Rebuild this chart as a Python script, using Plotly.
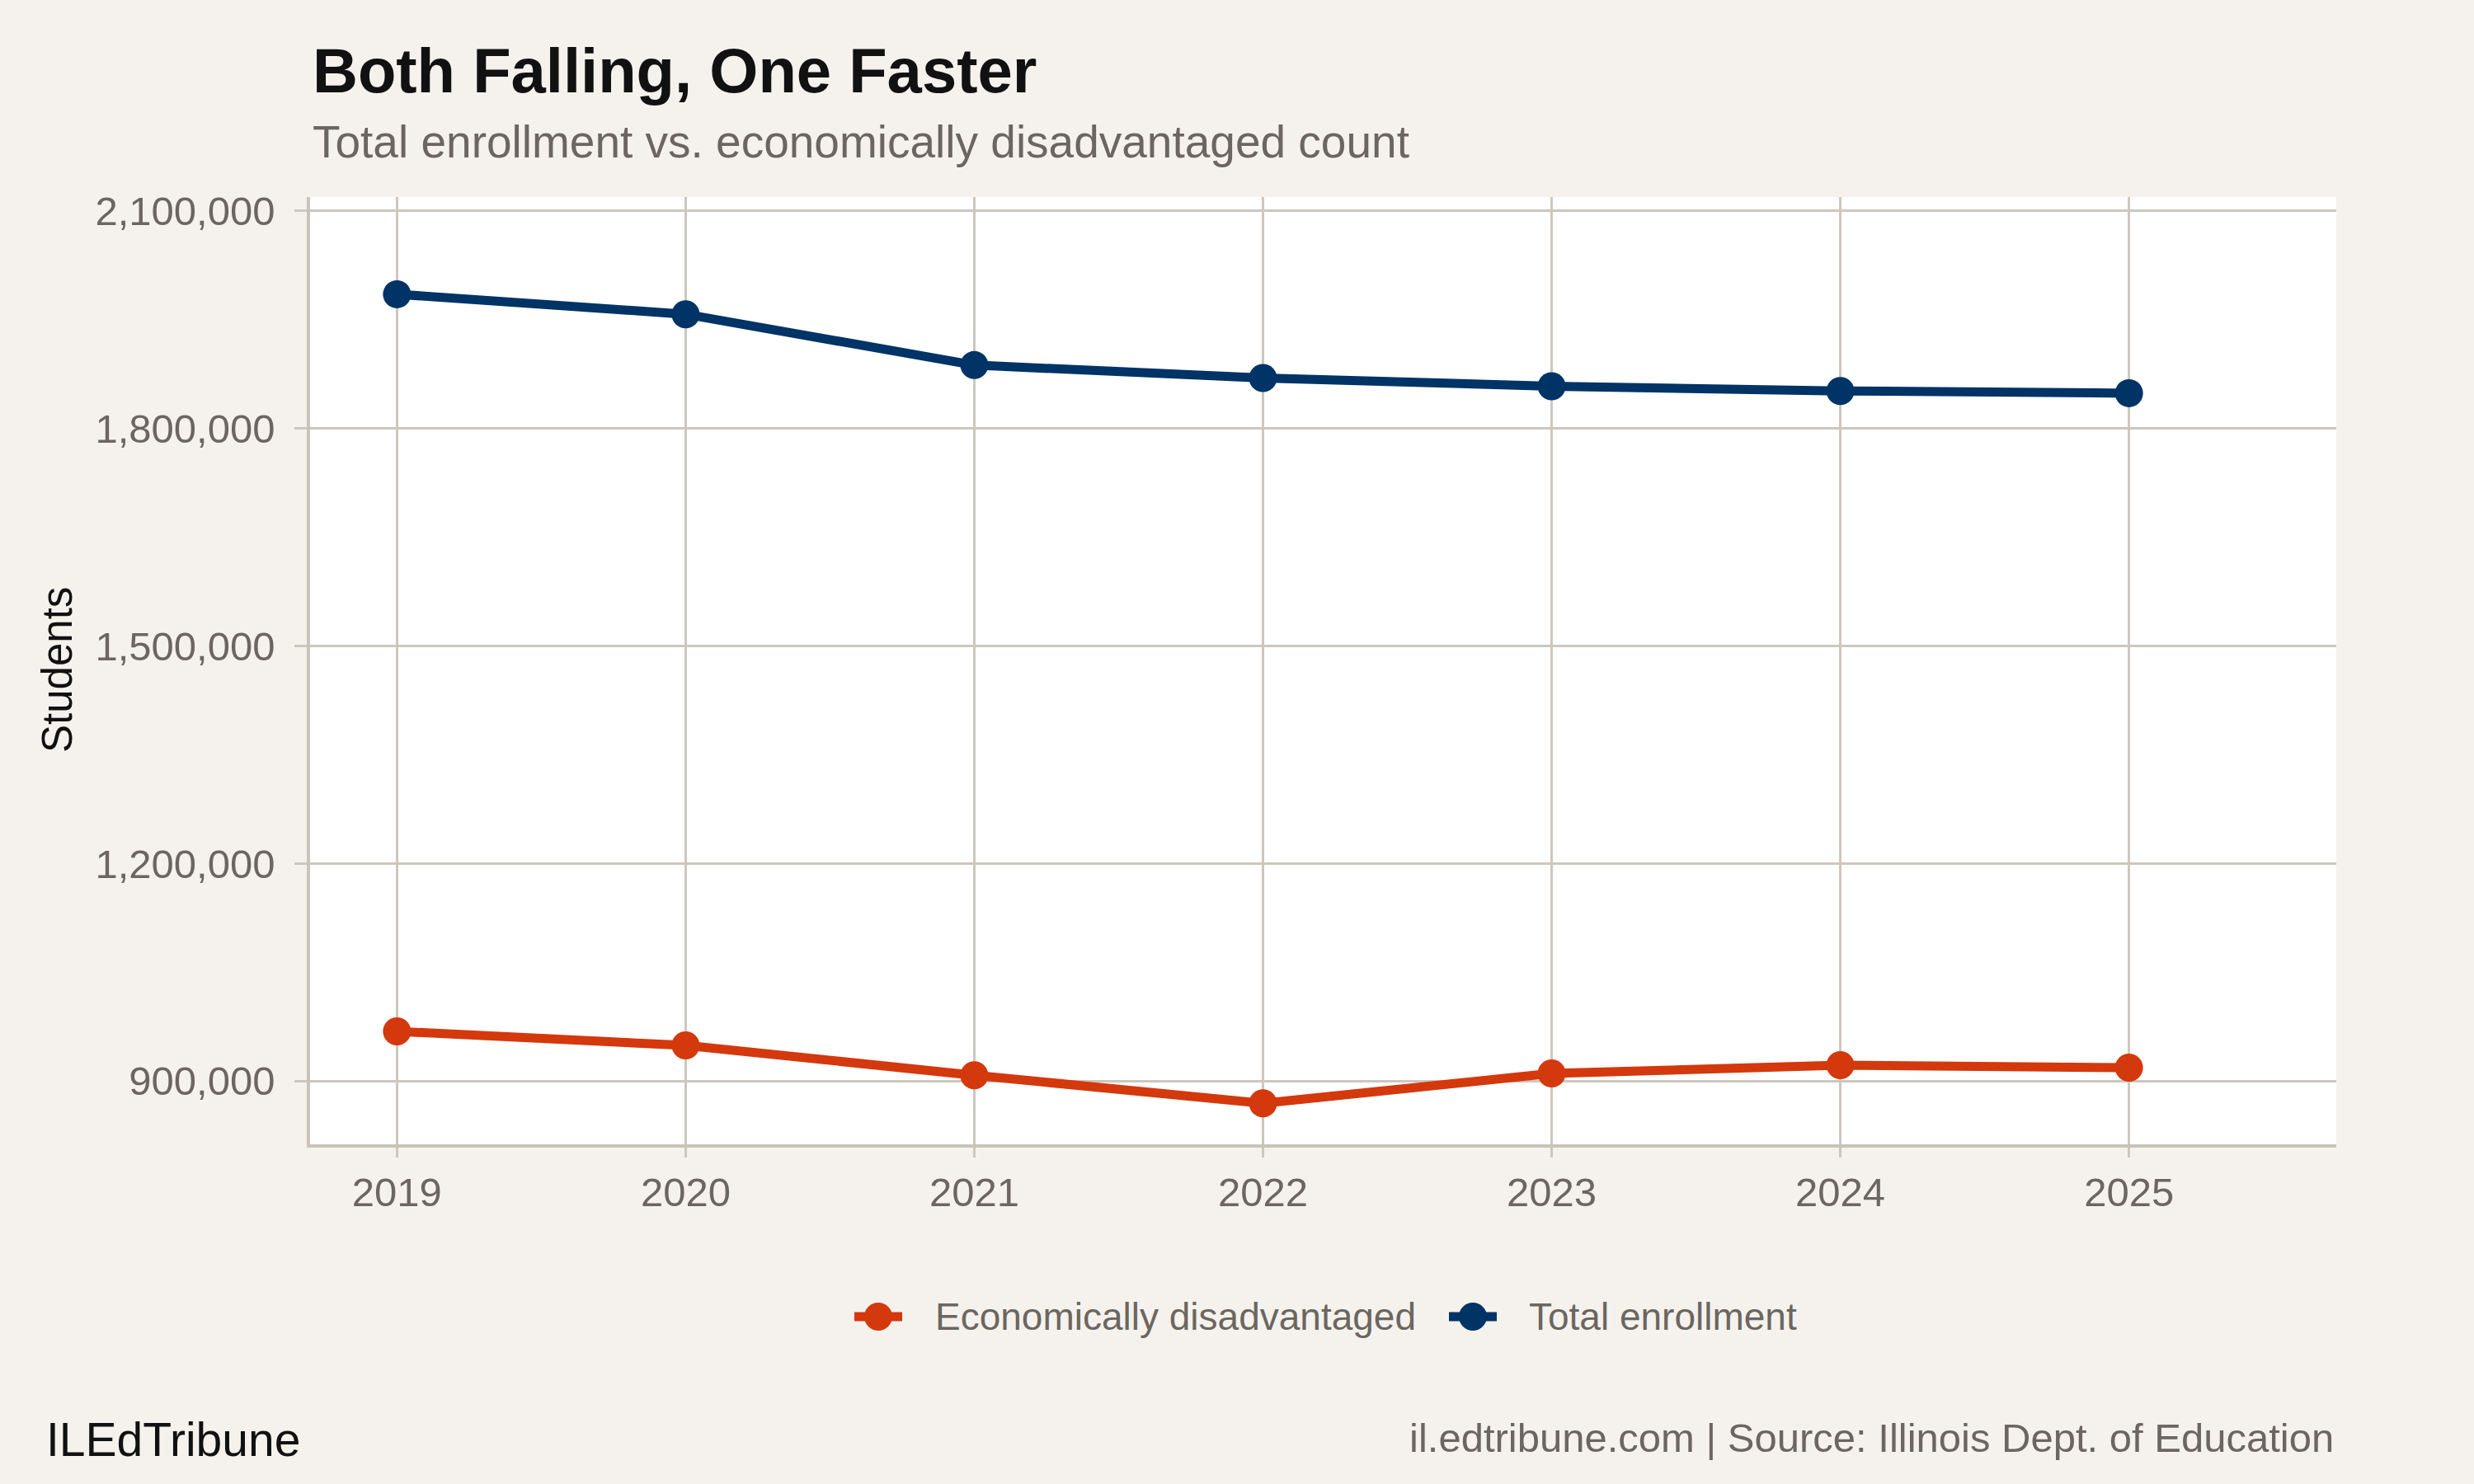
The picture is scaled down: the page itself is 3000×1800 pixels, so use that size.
import plotly.graph_objects as go

# Data
years = [2019, 2020, 2021, 2022, 2023, 2024, 2025]
total_enrollment = [1984800, 1957200, 1887100, 1869300, 1858000, 1851500, 1848400]
econ_disadvantaged = [968500, 949200, 908000, 869300, 910600, 921900, 918500]
y_ticks = [900000, 1200000, 1500000, 1800000, 2100000]
series_names = ["Economically disadvantaged", "Total enrollment"]

# Style
BG = "#F5F2ED"
GRID = "#CDC7BE"
AXIS = "#C9C3B9"
MUTED = "#6B6660"
ORANGE = "#D4380D"
NAVY = "#003366"
FONT = "Liberation Sans, Arial, Helvetica, sans-serif"

W, H = 3000, 1800
L, R, T, B = 376, 167, 239, 412
plot_w = W - L - R
plot_h = H - T - B


def px_x(x):
    return (x - L) / plot_w


def px_y(y):
    return (H - B - y) / plot_h


fig = go.Figure()

fig.add_trace(go.Scatter(
    x=years, y=econ_disadvantaged,
    mode="lines+markers",
    name=series_names[0],
    line=dict(color=ORANGE, width=11),
    marker=dict(color=ORANGE, size=34),
))

fig.add_trace(go.Scatter(
    x=years, y=total_enrollment,
    mode="lines+markers",
    name=series_names[1],
    line=dict(color=NAVY, width=11),
    marker=dict(color=NAVY, size=34),
))

# legend drawn by hand so the keys can be as big as in ggplot
legend_keys = [(1065, 1132, ORANGE, series_names[0]), (1786, 1852, NAVY, series_names[1])]
leg_y = 1597
shapes = []
leg_text = []
for cx, tx, col, label in legend_keys:
    shapes.append(dict(type="line", xref="paper", yref="paper",
                       x0=px_x(cx - 29), x1=px_x(cx + 29), y0=px_y(leg_y), y1=px_y(leg_y),
                       line=dict(color=col, width=11)))
    shapes.append(dict(type="circle", xref="paper", yref="paper",
                       x0=px_x(cx - 17), x1=px_x(cx + 17), y0=px_y(leg_y + 17), y1=px_y(leg_y - 17),
                       fillcolor=col, line=dict(width=0)))
    leg_text.append(dict(text=label, xref="paper", yref="paper", x=px_x(tx), y=px_y(leg_y),
                         xanchor="left", yanchor="middle", showarrow=False,
                         font=dict(size=46, color=MUTED)))

fig.update_layout(
    width=W, height=H,
    paper_bgcolor=BG,
    plot_bgcolor="white",
    margin=dict(l=L, r=R, t=T, b=B),
    font=dict(family=FONT, color=MUTED, size=49),
    showlegend=False,
    xaxis=dict(
        range=[2018.699, 2025.718],
        tickvals=years,
        showgrid=True, gridcolor=GRID, gridwidth=2.5,
        showline=True, linecolor=AXIS, linewidth=3.5,
        ticks="outside", ticklen=12, tickwidth=2.5, tickcolor=GRID,
        tickfont=dict(size=49, color=MUTED),
        zeroline=False,
        fixedrange=True,
    ),
    yaxis=dict(
        range=[812800, 2118800],
        tickvals=y_ticks,
        tickformat=",d",
        showgrid=True, gridcolor=GRID, gridwidth=2.5,
        showline=True, linecolor=AXIS, linewidth=3.5,
        ticks="outside", ticklen=15, tickwidth=2.5, tickcolor=GRID,
        tickfont=dict(size=49, color=MUTED),
        ticklabelstandoff=14,
        zeroline=False,
        fixedrange=True,
    ),
    shapes=shapes,
    annotations=[
        dict(text="<b>Both Falling, One Faster</b>",
             xref="paper", yref="paper", x=px_x(377), y=px_y(86),
             xanchor="left", yanchor="middle", showarrow=False,
             font=dict(size=76, color="#111111")),
        dict(text="Total enrollment vs. economically disadvantaged count",
             xref="paper", yref="paper", x=px_x(377), y=px_y(172),
             xanchor="left", yanchor="middle", showarrow=False,
             font=dict(size=55, color=MUTED)),
        dict(text="Students",
             xref="paper", yref="paper", x=px_x(69), y=px_y(813),
             xanchor="center", yanchor="middle", showarrow=False,
             textangle=-90,
             font=dict(size=51, color="#111111")),
        dict(text="ILEdTribune",
             xref="paper", yref="paper", x=px_x(54), y=px_y(1746),
             xanchor="left", yanchor="middle", showarrow=False,
             font=dict(size=57, color="#111111")),
        dict(text="il.edtribune.com | Source: Illinois Dept. of Education",
             xref="paper", yref="paper", x=px_x(2832), y=px_y(1744),
             xanchor="right", yanchor="middle", showarrow=False,
             font=dict(size=49, color=MUTED)),
    ] + leg_text,
)

fig.write_html(
    "out.html",
    config={"displayModeBar": False},
    post_script="document.body.style.margin='0';document.body.style.background='%s';" % BG,
)
